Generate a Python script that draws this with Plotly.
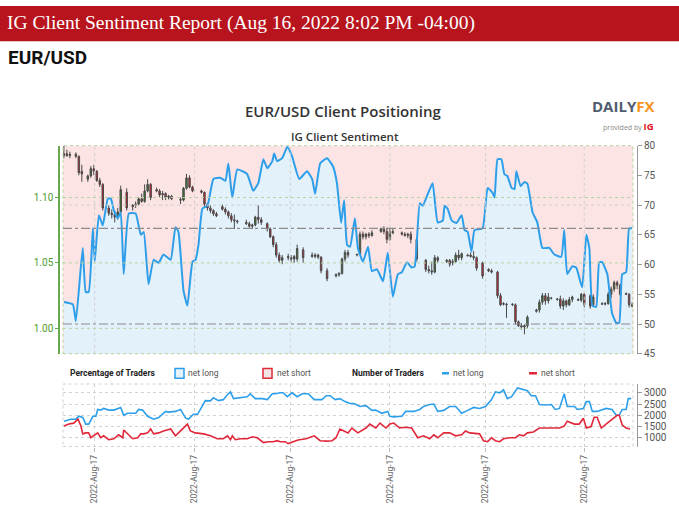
import plotly.graph_objects as go

W, H = 679, 517

# ---- EUR/USD daily candles (x = day index) ----
candle_day = [0, 1, 2, 4, 5, 6, 8, 9, 10, 11,
              12, 13, 15, 16, 17, 18, 19, 21, 23, 24,
              25, 26, 27, 28, 29, 31, 32, 33, 34, 35,
              36, 39, 40, 41, 42, 43, 46, 47, 48, 49,
              50, 51, 53, 54, 55, 56, 57, 58, 61, 62,
              63, 64, 65, 66, 68, 69, 70, 71, 72, 73,
              75, 76, 77, 78, 80, 83, 84, 85, 86, 88,
              91, 92, 93, 94, 95, 98, 99, 100, 101, 102,
              103, 106, 107, 108, 109, 110, 113, 114, 115, 116,
              118, 121, 122, 123, 124, 125, 128, 129, 130, 131,
              132, 133, 135, 136, 137, 138, 140, 142, 143, 145,
              146, 147, 148, 150, 151, 152, 153, 154, 155, 158,
              159, 160, 161, 162, 163, 165, 166, 167, 168, 169,
              170, 172, 173, 174, 176, 177, 180, 181, 182, 183,
              184, 185, 186, 188, 189, 190]
candle_open = [1.1320, 1.1335, 1.1320, 1.1330, 1.1315, 1.1200, 1.1140, 1.1165, 1.1220, 1.1200,
               1.1130, 1.1100, 1.0920, 1.0880, 1.0870, 1.0850, 1.0890, 1.1040, 1.0930, 1.0940,
               1.0950, 1.0990, 1.0970, 1.1050, 1.1100, 1.1060, 1.1050, 1.1020, 1.1030, 1.1000,
               1.1010, 1.0985, 1.0980, 1.1070, 1.1150, 1.1080, 1.1050, 1.1040, 1.0950, 1.0920,
               1.0900, 1.0875, 1.0930, 1.0910, 1.0890, 1.0860, 1.0830, 1.0820, 1.0810, 1.0800,
               1.0780, 1.0790, 1.0850, 1.0830, 1.0800, 1.0760, 1.0700, 1.0640, 1.0560, 1.0520,
               1.0550, 1.0540, 1.0530, 1.0530, 1.0600, 1.0560, 1.0550, 1.0560, 1.0545, 1.0440,
               1.0400, 1.0410, 1.0420, 1.0530, 1.0580, 1.0560, 1.0565, 1.0720, 1.0700, 1.0720,
               1.0710, 1.0740, 1.0760, 1.0740, 1.0680, 1.0740, 1.0730, 1.0720, 1.0710, 1.0720,
               1.0680, 1.0520, 1.0450, 1.0440, 1.0430, 1.0540, 1.0510, 1.0520, 1.0500, 1.0510,
               1.0560, 1.0540, 1.0560, 1.0560, 1.0550, 1.0540, 1.0500, 1.0450, 1.0440, 1.0430,
               1.0250, 1.0190, 1.0185, 1.0180, 1.0180, 1.0050, 1.0020, 1.0010, 1.0020, 1.0130,
               1.0140, 1.0200, 1.0250, 1.0210, 1.0230, 1.0220, 1.0225, 1.0170, 1.0210, 1.0180,
               1.0220, 1.0220, 1.0215, 1.0260, 1.0250, 1.0180, 1.0190, 1.0185, 1.0190, 1.0260,
               1.0300, 1.0350, 1.0330, 1.0265, 1.0260, 1.0180]
candle_high = [1.1395, 1.1365, 1.1350, 1.1345, 1.1320, 1.1250, 1.1175, 1.1240, 1.1250, 1.1210,
               1.1150, 1.1110, 1.0940, 1.0910, 1.0900, 1.0920, 1.1090, 1.1070, 1.0950, 1.0970,
               1.1000, 1.1030, 1.1100, 1.1140, 1.1110, 1.1075, 1.1065, 1.1050, 1.1040, 1.1020,
               1.1020, 1.1000, 1.1080, 1.1180, 1.1170, 1.1090, 1.1060, 1.1045, 1.0960, 1.0940,
               1.0910, 1.0890, 1.0945, 1.0925, 1.0900, 1.0880, 1.0870, 1.0830, 1.0830, 1.0815,
               1.0800, 1.0860, 1.0940, 1.0850, 1.0810, 1.0770, 1.0710, 1.0660, 1.0580, 1.0560,
               1.0570, 1.0560, 1.0560, 1.0640, 1.0620, 1.0580, 1.0575, 1.0570, 1.0550, 1.0460,
               1.0420, 1.0430, 1.0540, 1.0600, 1.0600, 1.0570, 1.0740, 1.0740, 1.0730, 1.0735,
               1.0750, 1.0770, 1.0780, 1.0770, 1.0760, 1.0760, 1.0740, 1.0735, 1.0730, 1.0740,
               1.0690, 1.0530, 1.0480, 1.0510, 1.0560, 1.0550, 1.0530, 1.0530, 1.0530, 1.0580,
               1.0600, 1.0580, 1.0570, 1.0580, 1.0590, 1.0550, 1.0510, 1.0460, 1.0455, 1.0440,
               1.0270, 1.0200, 1.0195, 1.0190, 1.0190, 1.0060, 1.0040, 1.0030, 1.0100, 1.0150,
               1.0220, 1.0270, 1.0270, 1.0270, 1.0240, 1.0230, 1.0250, 1.0230, 1.0220, 1.0240,
               1.0250, 1.0230, 1.0270, 1.0270, 1.0260, 1.0260, 1.0200, 1.0200, 1.0280, 1.0320,
               1.0365, 1.0365, 1.0340, 1.0275, 1.0270, 1.0200]
candle_low = [1.1300, 1.1310, 1.1300, 1.1300, 1.1170, 1.1120, 1.1120, 1.1150, 1.1170, 1.1120,
              1.1080, 1.0900, 1.0860, 1.0840, 1.0810, 1.0830, 1.0880, 1.0900, 1.0900, 1.0920,
              1.0940, 1.0960, 1.0960, 1.1040, 1.0980, 1.1040, 1.1000, 1.0980, 1.0980, 1.0985,
              1.0980, 1.0950, 1.0970, 1.1060, 1.1070, 1.1040, 1.1030, 1.0930, 1.0900, 1.0880,
              1.0860, 1.0850, 1.0900, 1.0870, 1.0840, 1.0810, 1.0760, 1.0800, 1.0790, 1.0770,
              1.0760, 1.0780, 1.0800, 1.0790, 1.0740, 1.0690, 1.0620, 1.0540, 1.0500, 1.0490,
              1.0520, 1.0510, 1.0500, 1.0510, 1.0500, 1.0540, 1.0535, 1.0530, 1.0420, 1.0360,
              1.0390, 1.0395, 1.0410, 1.0510, 1.0540, 1.0550, 1.0560, 1.0680, 1.0680, 1.0690,
              1.0700, 1.0730, 1.0720, 1.0650, 1.0670, 1.0720, 1.0710, 1.0700, 1.0690, 1.0650,
              1.0510, 1.0430, 1.0420, 1.0410, 1.0420, 1.0500, 1.0500, 1.0470, 1.0480, 1.0500,
              1.0520, 1.0520, 1.0550, 1.0540, 1.0520, 1.0440, 1.0380, 1.0430, 1.0420, 1.0230,
              1.0170, 1.0175, 1.0080, 1.0170, 1.0030, 1.0010, 0.9990, 0.9955, 1.0000, 1.0120,
              1.0120, 1.0180, 1.0180, 1.0190, 1.0220, 1.0210, 1.0150, 1.0140, 1.0160, 1.0170,
              1.0200, 1.0210, 1.0200, 1.0160, 1.0150, 1.0170, 1.0180, 1.0175, 1.0180, 1.0230,
              1.0280, 1.0300, 1.0250, 1.0255, 1.0160, 1.0160]
candle_close = [1.1335, 1.1320, 1.1330, 1.1315, 1.1190, 1.1180, 1.1165, 1.1220, 1.1200, 1.1130,
                1.1100, 1.0920, 1.0880, 1.0870, 1.0850, 1.0890, 1.1060, 1.0920, 1.0940, 1.0950,
                1.0990, 1.0970, 1.1050, 1.1100, 1.1000, 1.1050, 1.1020, 1.1030, 1.1000, 1.1010,
                1.0990, 1.0980, 1.1070, 1.1150, 1.1080, 1.1050, 1.1040, 1.0950, 1.0920, 1.0900,
                1.0875, 1.0860, 1.0910, 1.0890, 1.0860, 1.0830, 1.0820, 1.0815, 1.0800, 1.0780,
                1.0790, 1.0850, 1.0830, 1.0810, 1.0760, 1.0700, 1.0640, 1.0560, 1.0520, 1.0540,
                1.0540, 1.0530, 1.0550, 1.0610, 1.0540, 1.0550, 1.0560, 1.0545, 1.0440, 1.0380,
                1.0410, 1.0420, 1.0530, 1.0580, 1.0560, 1.0565, 1.0720, 1.0700, 1.0720, 1.0710,
                1.0730, 1.0760, 1.0740, 1.0680, 1.0740, 1.0730, 1.0720, 1.0710, 1.0720, 1.0680,
                1.0530, 1.0450, 1.0440, 1.0430, 1.0540, 1.0520, 1.0520, 1.0490, 1.0510, 1.0560,
                1.0540, 1.0570, 1.0555, 1.0550, 1.0540, 1.0460, 1.0400, 1.0440, 1.0430, 1.0250,
                1.0180, 1.0185, 1.0180, 1.0185, 1.0050, 1.0020, 1.0010, 1.0020, 1.0085, 1.0140,
                1.0200, 1.0250, 1.0210, 1.0240, 1.0230, 1.0225, 1.0170, 1.0210, 1.0180, 1.0220,
                1.0240, 1.0215, 1.0260, 1.0180, 1.0170, 1.0240, 1.0185, 1.0190, 1.0260, 1.0300,
                1.0350, 1.0330, 1.0260, 1.0260, 1.0180, 1.0170]

# ---- IG client sentiment: % of traders net long ----
sent_day = [0, 3, 4, 6.3, 7.3, 8.3, 9.7, 10.3, 11.7, 13,
            14.7, 15.7, 16.7, 18, 19, 20, 21.7, 24, 25.7, 26.7,
            28.3, 30, 31.7, 33.3, 35.7, 37.3, 38.3, 40, 41.3, 43,
            44, 45, 46.3, 48, 50, 52.3, 54, 55, 56.3, 58,
            61.3, 63.3, 65, 66.7, 68, 69.7, 70.3, 71.3, 73, 74.7,
            76.3, 78.7, 81.3, 83, 84, 85.7, 88, 90, 91.3, 92.7,
            93.7, 94.7, 95.7, 97.3, 98.3, 100, 101.7, 103, 104.7, 106.7,
            108.3, 110, 111.7, 113, 114.7, 116.3, 117.3, 119, 120, 121.7,
            123.3, 125, 126.7, 127.3, 128.3, 129.7, 131.3, 133, 134, 135,
            136.3, 137.3, 140, 141.7, 143.3, 144, 145, 146.3, 147.3, 148.3,
            149.7, 150.7, 151.3, 152.7, 154, 155, 156.7, 158.3, 160, 162.3,
            164, 166.3, 167.3, 168.3, 170, 171.3, 173.3, 174.7, 175.7, 176.7,
            178, 179, 180, 181.7, 183.3, 184.7, 185.7, 186.7, 188, 189,
            190]
sent_long = [53.7, 53.3, 50.5, 62.8, 55.4, 55.4, 66.1, 60.5, 68.3, 66.6,
             71.1, 71.1, 69.1, 67.8, 68.8, 58.4, 68.6, 68.6, 65.0, 65.5,
             56.7, 60.8, 60.3, 61.7, 60.8, 66.3, 65.5, 55.6, 53.1, 60.5,
             60.8, 63.3, 69.4, 69.9, 74.4, 74.6, 74.1, 77.0, 71.3, 76.0,
             75.2, 72.4, 73.7, 77.7, 76.2, 77.4, 78.7, 77.4, 77.9, 79.8,
             78.2, 74.4, 75.7, 74.4, 71.9, 77.0, 77.9, 76.5, 73.7, 67.0,
             70.8, 63.3, 63.0, 67.8, 62.8, 60.5, 63.0, 58.9, 59.2, 57.2,
             62.0, 54.6, 58.4, 58.7, 60.4, 59.5, 59.7, 70.3, 69.9, 71.9,
             73.7, 67.1, 67.4, 69.9, 69.4, 67.4, 67.0, 68.3, 65.8, 65.5,
             62.2, 65.8, 66.1, 72.9, 72.1, 71.3, 77.7, 77.7, 75.2, 74.9,
             72.9, 72.7, 75.7, 73.2, 73.9, 73.6, 68.8, 67.1, 62.8, 62.8,
             61.7, 61.3, 65.8, 58.4, 59.7, 59.5, 56.2, 65.0, 62.8, 53.1,
             52.9, 60.4, 60.4, 58.4, 51.8, 50.2, 50.2, 58.4, 58.7, 66.1,
             66.1]

# ---- number of traders ----
long_day = [0, 2.3, 4, 5, 6.3, 7.3, 8.3, 9.7, 10.7, 11.3,
            12.3, 13.3, 15, 16.7, 19, 20, 21.3, 24, 25, 26.3,
            28, 30, 31.7, 34, 35, 37.3, 39, 40.7, 41.7, 43.3,
            44.7, 46.3, 47.3, 49, 50, 51.7, 53.3, 54.7, 55.7, 56.7,
            59.7, 61.3, 62.3, 64, 66.3, 68, 69.7, 70.7, 72.3, 73.3,
            74.7, 76.3, 78, 79.7, 81.7, 83.7, 86.3, 87.7, 89, 90.7,
            92.3, 94, 95.7, 97, 99, 101, 103, 104.3, 106.3, 108.3,
            109, 110.3, 113, 114.3, 117, 119, 120.3, 122.3, 123.7, 125,
            127, 129, 131, 133, 135, 137, 139, 141, 143, 144.3,
            145.7, 147, 148.3, 149.7, 151.7, 153.7, 155, 156.3, 157.7, 159,
            161, 163, 164.3, 165.7, 167.3, 168.3, 170.7, 171.7, 173.7, 174.7,
            175.7, 176.7, 178.3, 181.3, 183.3, 184.7, 185.7, 186.7, 188, 188.7,
            189.7]
long_traders = [1739, 1826, 1826, 1956, 1900, 1608, 1608, 1956, 1956, 2260,
                2230, 2304, 2230, 2230, 2348, 2000, 2087, 2087, 2260, 2230,
                1956, 1826, 1900, 2173, 2140, 2173, 2260, 1870, 1830, 2043,
                2043, 2391, 2652, 2640, 2782, 2652, 2695, 2913, 3043, 2739,
                2782, 2826, 2956, 2739, 2739, 2695, 2956, 2956, 3000, 3000,
                2826, 3000, 2826, 2956, 2956, 2695, 2695, 2869, 2869, 2695,
                2739, 2609, 2522, 2522, 2391, 2430, 2217, 2230, 2087, 2173,
                1956, 1930, 1956, 2173, 2173, 2260, 2391, 2478, 2500, 2173,
                2217, 2391, 2391, 2087, 2217, 2348, 2304, 2391, 2695, 3043,
                3000, 3130, 2739, 2826, 3217, 3130, 3090, 2869, 2869, 2478,
                2460, 2478, 2260, 2304, 2956, 2391, 2391, 2260, 2300, 2609,
                2609, 2173, 2173, 2304, 2260, 2000, 2000, 2260, 2260, 2739,
                2739]
short_day = [0, 1.7, 3.3, 4.7, 5.7, 6.3, 7.3, 8.3, 9, 10,
             11.3, 12.3, 13.3, 15, 16.7, 18.3, 19.7, 20, 21.3, 23,
             24.7, 25.7, 26.7, 28, 29, 30, 31.7, 33.3, 35.7, 37.3,
             39, 41.3, 42.3, 44, 46.7, 49, 51.3, 53.3, 54.7, 55.7,
             56.3, 57.3, 59, 61.3, 63, 64.7, 66.7, 68.3, 70, 71.3,
             72.3, 74, 75, 76.7, 78.3, 81, 83.7, 85.7, 87.7, 89.7,
             91, 92.3, 93.7, 95, 96.3, 98.3, 101, 102.3, 104.3, 105.7,
             107.7, 109, 110.3, 112.3, 114.3, 116.3, 118.3, 120.3, 122.3, 123.7,
             125, 127, 129, 131, 133, 134.3, 135.7, 139, 140.3, 141.7,
             143, 144.3, 145.7, 147, 149, 151, 152.3, 153.7, 155, 157,
             159, 161.7, 163.7, 165.7, 167.3, 168.3, 170.7, 172.3, 173.7, 174.7,
             176.3, 177.3, 178.3, 179.7, 181.7, 184, 185, 185.7, 186.7, 188,
             189.3]
short_traders = [1521, 1608, 1650, 1826, 1521, 1173, 1217, 1217, 1000, 1086,
                 1217, 1000, 1086, 913, 956, 1130, 1000, 1347, 1173, 956,
                 1000, 1173, 1173, 1217, 1391, 1173, 1217, 1304, 1391, 1086,
                 1304, 1608, 1304, 1217, 1173, 1086, 956, 956, 1086, 913,
                 1086, 913, 956, 956, 1043, 1000, 783, 826, 826, 870,
                 826, 826, 740, 826, 900, 956, 1086, 870, 850, 870,
                 1000, 1391, 1304, 1217, 1434, 1217, 1434, 1608, 1434, 1652,
                 1434, 1608, 1652, 1434, 1470, 1434, 1000, 1086, 956, 1130,
                 1000, 1217, 1217, 1086, 1130, 1304, 1217, 1173, 870, 826,
                 1000, 870, 826, 956, 1000, 1000, 1130, 1086, 1217, 1260,
                 1434, 1434, 1434, 1434, 1521, 1739, 1608, 1608, 1870, 1434,
                 1500, 1913, 1913, 1434, 1652, 1913, 2000, 2000, 1565, 1434,
                 1391]

tick_days = [10.3, 43.7, 75.7, 109, 141, 174]
tick_text = ["2022-Aug-17"] * len(tick_days)
price_ticks = [1.00, 1.05, 1.10]
pct_ticks = [45, 50, 55, 60, 65, 70, 75, 80]
trader_ticks = [1000, 1500, 2000, 2500, 3000]

BLUE = "#2d9fea"
RED = "#e0283a"


def px_x(p):
    return p / W


def px_y(p):
    return 1 - p / H


X_DOM = [px_x(63), px_x(633)]
MAIN_DOM = [px_y(356), px_y(143)]
LOW_DOM = [px_y(451), px_y(387)]
XR = [-0.3, 190.3]

fig = go.Figure()

fig.add_trace(go.Scatter(
    x=sent_day, y=sent_long, mode="lines",
    line=dict(width=0, shape="spline", smoothing=0.4),
    fill="tozeroy", fillcolor="#e3f1fb",
    xaxis="x", yaxis="y", hoverinfo="skip", showlegend=False
))

fig.add_trace(go.Candlestick(
    x=candle_day, open=candle_open, high=candle_high, low=candle_low, close=candle_close,
    xaxis="x", yaxis="y2", whiskerwidth=0, showlegend=False,
    increasing=dict(line=dict(color="#4a4a4a", width=1), fillcolor="#3a7f26"),
    decreasing=dict(line=dict(color="#4a4a4a", width=1), fillcolor="#d3222c"),
))

fig.add_trace(go.Scatter(
    x=sent_day, y=sent_long, mode="lines",
    line=dict(color=BLUE, width=2, shape="spline", smoothing=0.4),
    xaxis="x", yaxis="y3", showlegend=False
))

fig.add_trace(go.Scatter(
    x=long_day, y=long_traders, mode="lines", line=dict(color=BLUE, width=1.6),
    xaxis="x2", yaxis="y4", showlegend=False
))
fig.add_trace(go.Scatter(
    x=short_day, y=short_traders, mode="lines", line=dict(color=RED, width=1.6),
    xaxis="x2", yaxis="y4", showlegend=False
))

tick_font = dict(family="Roboto", size=10, color="#555")

fig.update_layout(
    width=W, height=H,
    margin=dict(l=0, r=0, t=0, b=0),
    paper_bgcolor="white", plot_bgcolor="rgba(0,0,0,0)",
    showlegend=False, hovermode=False,
    xaxis=dict(domain=X_DOM, range=XR, anchor="y", showticklabels=False,
               showgrid=False, zeroline=False, showline=False, ticks="",
               rangeslider=dict(visible=False)),
    yaxis=dict(domain=MAIN_DOM, range=[45, 80], side="right", anchor="free",
               position=px_x(637), tickvals=pct_ticks, ticksuffix="%",
               ticks="outside", ticklen=4, tickcolor="#999", showline=True,
               linecolor="#999", showgrid=False, zeroline=False, tickfont=tick_font),
    yaxis2=dict(overlaying="y", range=[0.9806, 1.1396], side="left", anchor="free",
                position=px_x(59), tickvals=price_ticks, tickformat=".2f",
                ticks="outside", ticklen=3, tickcolor="#6aa84f", showline=True,
                linecolor="#6aa84f", linewidth=1.5, showgrid=False, zeroline=False,
                tickfont=dict(family="Roboto", size=10, color="#4e9a2c")),
    yaxis3=dict(overlaying="y", range=[45, 80], visible=False),
    xaxis2=dict(domain=X_DOM, range=XR, anchor="y4", tickvals=tick_days,
                ticktext=tick_text, tickangle=-90, ticks="outside", ticklen=4,
                tickcolor="#bbb", showgrid=True, gridcolor="#d2d2d2", griddash="dot",
                zeroline=False, showline=False,
                tickfont=dict(family="Roboto", size=8.5, color="#666")),
    yaxis4=dict(domain=LOW_DOM, range=[610, 3390], side="right", anchor="free",
                position=px_x(637), tickvals=trader_ticks, ticks="outside", ticklen=4,
                tickcolor="#999", showline=True, linecolor="#999", showgrid=True,
                gridcolor="#d2d2d2", griddash="dot", zeroline=False, tickfont=tick_font),
)

shapes = []
# header banner
shapes.append(dict(type="rect", xref="paper", yref="paper", x0=0, x1=1, y0=px_y(36), y1=1,
                   fillcolor="#b8141d", line=dict(width=0), layer="below"))
# pink (net short) background of the main panel
shapes.append(dict(type="rect", xref="x domain", yref="y domain", x0=0, x1=1, y0=0, y1=1,
                   fillcolor="#fce4e4", line=dict(width=0), layer="below"))
# main panel grid
for d in tick_days:
    shapes.append(dict(type="line", xref="x", yref="y domain", x0=d, x1=d, y0=0, y1=1,
                       line=dict(color="#cfcfcf", width=1, dash="dot"), layer="above"))
for p in price_ticks:
    shapes.append(dict(type="line", xref="x domain", yref="y2", x0=0, x1=1, y0=p, y1=p,
                       line=dict(color="#b7d3a2", width=1, dash="dot"), layer="above"))
shapes.append(dict(type="line", xref="x domain", yref="y", x0=0, x1=1, y0=70, y1=70,
                   line=dict(color="#cfcfcf", width=1, dash="dot"), layer="above"))
shapes.append(dict(type="rect", xref="x domain", yref="y domain", x0=0, x1=1, y0=0, y1=1,
                   line=dict(color="#b7d3a2", width=1, dash="dot"), layer="above"))
# 50% and current sentiment reference lines
for lvl in [50, sent_long[-1]]:
    shapes.append(dict(type="line", xref="x domain", yref="y", x0=0, x1=1, y0=lvl, y1=lvl,
                       line=dict(color="#8c8c8c", width=1.2, dash="dashdot"), layer="above"))
# lower panel frame
shapes.append(dict(type="rect", xref="x2 domain", yref="y4 domain", x0=0, x1=1, y0=0, y1=1,
                   line=dict(color="#d2d2d2", width=1, dash="dot"), layer="above"))
# legend keys
ly = 376
shapes.append(dict(type="rect", xref="paper", yref="paper", x0=px_x(175), x1=px_x(184),
                   y0=px_y(ly + 5), y1=px_y(ly - 5), fillcolor="#e6f3fc",
                   line=dict(color=BLUE, width=1.5)))
shapes.append(dict(type="rect", xref="paper", yref="paper", x0=px_x(263), x1=px_x(272),
                   y0=px_y(ly + 5), y1=px_y(ly - 5), fillcolor="#f1e4e4",
                   line=dict(color=RED, width=1.5)))
shapes.append(dict(type="line", xref="paper", yref="paper", x0=px_x(442), x1=px_x(449),
                   y0=px_y(ly), y1=px_y(ly), line=dict(color=BLUE, width=2.5)))
shapes.append(dict(type="line", xref="paper", yref="paper", x0=px_x(529), x1=px_x(537),
                   y0=px_y(ly), y1=px_y(ly), line=dict(color=RED, width=2.5)))
fig.update_layout(shapes=shapes)


def note(text, x, y, size, color="#333", family="Roboto", xanchor="left", weight=None):
    f = dict(family=family, size=size, color=color)
    if weight:
        f["weight"] = weight
    fig.add_annotation(text=text, x=px_x(x), y=px_y(y), xref="paper", yref="paper",
                       xanchor=xanchor, yanchor="middle", showarrow=False, font=f)


note("IG Client Sentiment Report (Aug 16, 2022 8:02 PM -04:00)", 5, 17, 19.5,
     color="white", family="Liberation Serif")
note("<b>EUR/USD</b>", 6, 53, 19, color="#111", family="Roboto")
note("EUR/USD Client Positioning", 343, 108, 15, color="#333", family="Open Sans",
     xanchor="center", weight=600)
note("IG Client Sentiment", 345, 134, 11.5, color="#333", family="Open Sans",
     xanchor="center", weight=600)
note("<b><span style='color:#4f5d6e'>DAILY</span><span style='color:#f7941d'>FX</span></b>",
     657, 102, 15, family="Open Sans", xanchor="right")
note("<span style='font-size:7px;color:#888'>provided by </span><b>IG</b>",
     656, 123, 9.5, color="#e3101c", family="Open Sans", xanchor="right")

note("<b>Percentage of Traders</b>", 68, ly, 8.5, color="#222")
note("net long", 186, ly, 8.5, color="#555")
note("net short", 275, ly, 8.5, color="#555")
note("<b>Number of Traders</b>", 350, ly, 8.5, color="#222")
note("net long", 451, ly, 8.5, color="#555")
note("net short", 539, ly, 8.5, color="#555")

fig.write_html("out.html", config={"displayModeBar": False},
               post_script="document.body.style.margin='0';document.body.style.padding='0';")
